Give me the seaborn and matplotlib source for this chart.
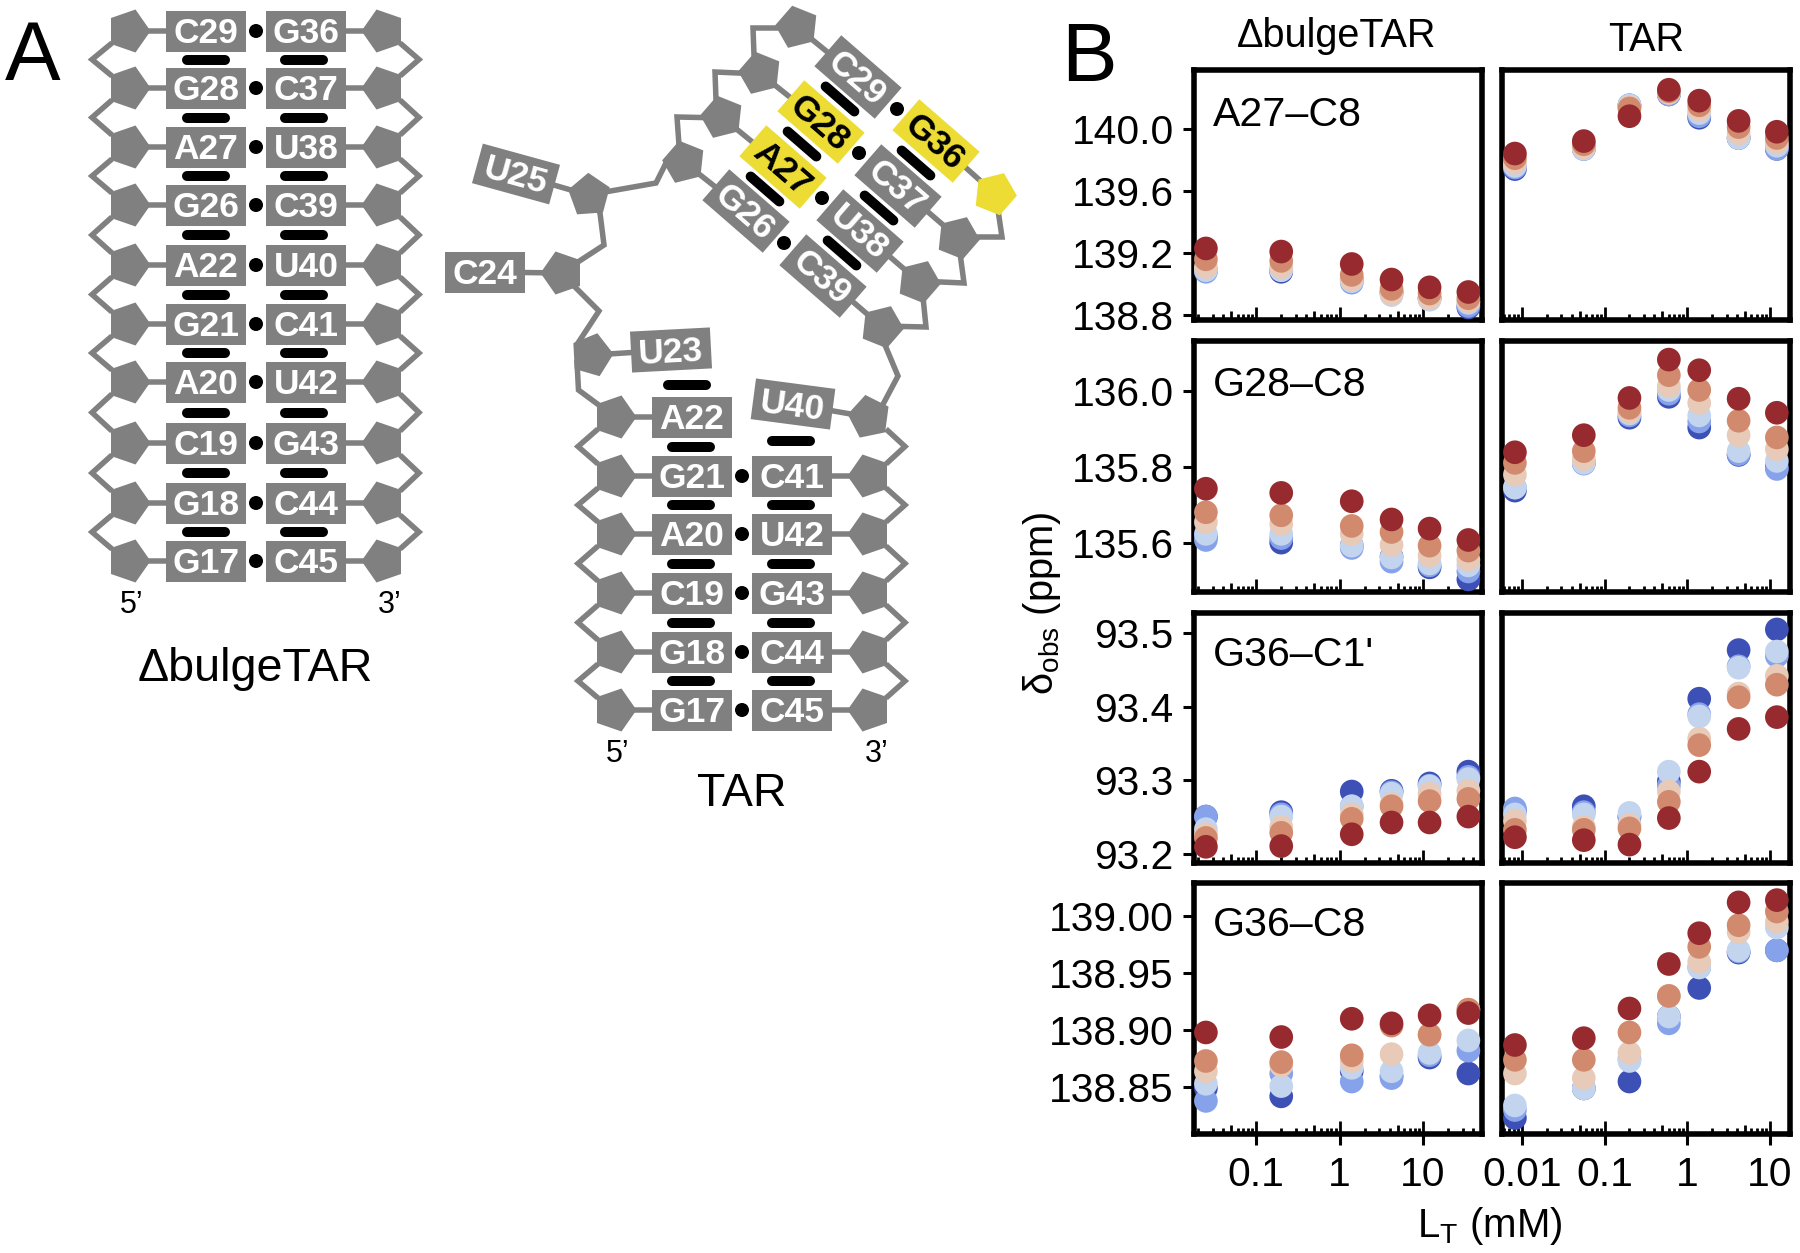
import numpy as np
import pandas as pd
import matplotlib
matplotlib.use("Agg")
import matplotlib.pyplot as plt
from matplotlib.patches import Polygon, Circle
import seaborn as sns

# ---------------- data ----------------
series = ["s1", "s2", "s3", "s4", "s5", "s6"]
colors = ["#3c50b6", "#86a2ea", "#c3d4ee", "#e8cab8", "#d18a6e", "#962a2e"]
lt_d = [0.025, 0.2, 1.4, 4.2, 12, 35]
lt_t = [0.0082, 0.056, 0.2, 0.6, 1.4, 4.2, 12.2]
A27_d = [[139.09, 139.08, 139.03, 138.95, 138.91, 138.85],
         [139.08, 139.09, 139.01, 138.94, 138.91, 138.86],
         [139.09, 139.09, 139.02, 138.93, 138.90, 138.88],
         [139.11, 139.11, 139.03, 138.94, 138.91, 138.89],
         [139.16, 139.15, 139.06, 138.97, 138.94, 138.91],
         [139.23, 139.21, 139.13, 139.03, 138.98, 138.95]]
A27_t = [[139.74, 139.87, 140.15, 140.22, 140.07, 139.94, 139.87],
         [139.75, 139.87, 140.15, 140.22, 140.08, 139.94, 139.87],
         [139.76, 139.87, 140.15, 140.23, 140.10, 139.94, 139.89],
         [139.78, 139.88, 140.14, 140.23, 140.12, 139.97, 139.91],
         [139.81, 139.90, 140.13, 140.24, 140.15, 140.01, 139.94],
         [139.84, 139.92, 140.08, 140.25, 140.18, 140.05, 139.98]]
G28_d = [[135.615, 135.600, 135.592, 135.563, 135.535, 135.503],
         [135.607, 135.612, 135.586, 135.550, 135.540, 135.524],
         [135.623, 135.623, 135.592, 135.561, 135.545, 135.540],
         [135.654, 135.649, 135.623, 135.594, 135.566, 135.555],
         [135.680, 135.672, 135.644, 135.628, 135.592, 135.579],
         [135.742, 135.731, 135.709, 135.661, 135.637, 135.607]]
G28_t = [[135.737, 135.810, 135.929, 135.984, 135.903, 135.831, 135.799],
         [135.745, 135.808, 135.935, 135.992, 135.919, 135.833, 135.794],
         [135.745, 135.810, 135.940, 136.002, 135.935, 135.841, 135.815],
         [135.779, 135.820, 135.945, 136.012, 135.968, 135.883, 135.846],
         [135.810, 135.841, 135.955, 136.041, 136.002, 135.921, 135.877],
         [135.838, 135.883, 135.981, 136.082, 136.054, 135.979, 135.942]]
G36C1_d = [[93.251, 93.257, 93.285, 93.286, 93.296, 93.312],
           [93.251, 93.254, 93.265, 93.284, 93.293, 93.305],
           [93.234, 93.251, 93.265, 93.282, 93.292, 93.302],
           [93.227, 93.237, 93.254, 93.268, 93.282, 93.286],
           [93.222, 93.229, 93.248, 93.265, 93.272, 93.275],
           [93.210, 93.211, 93.227, 93.243, 93.243, 93.251]]
G36C1_t = [[93.259, 93.265, 93.251, 93.299, 93.411, 93.477, 93.505],
           [93.262, 93.257, 93.250, 93.293, 93.390, 93.455, 93.469],
           [93.254, 93.254, 93.256, 93.312, 93.387, 93.453, 93.475],
           [93.245, 93.237, 93.240, 93.285, 93.357, 93.418, 93.442],
           [93.233, 93.233, 93.235, 93.271, 93.348, 93.413, 93.430],
           [93.223, 93.219, 93.213, 93.249, 93.312, 93.370, 93.386]]
G36C8_d = [[138.849, 138.842, 138.864, 138.860, 138.876, 138.862],
           [138.838, 138.862, 138.855, 138.858, 138.878, 138.882],
           [138.853, 138.851, 138.867, 138.864, 138.880, 138.891],
           [138.864, 138.869, 138.873, 138.879, 138.896, 138.918],
           [138.873, 138.872, 138.878, 138.904, 138.896, 138.918],
           [138.898, 138.894, 138.910, 138.906, 138.913, 138.915]]
G36C8_t = [[138.823, 138.849, 138.855, 138.912, 138.937, 138.968, 138.970],
           [138.830, 138.849, 138.875, 138.906, 138.955, 138.969, 138.970],
           [138.834, 138.849, 138.873, 138.912, 138.955, 138.970, 138.990],
           [138.862, 138.858, 138.880, 138.930, 138.960, 138.986, 138.995],
           [138.874, 138.874, 138.898, 138.930, 138.973, 138.992, 139.004],
           [138.887, 138.893, 138.919, 138.958, 138.985, 139.012, 139.014]]
panel_names = ["A27–C8", "G28–C8", "G36–C1'", "G36–C8"]
panel_d = [A27_d, G28_d, G36C1_d, G36C8_d]
panel_t = [A27_t, G28_t, G36C1_t, G36C8_t]
y_ticks = [[138.8, 139.2, 139.6, 140.0], [135.6, 135.8, 136.0],
           [93.2, 93.3, 93.4, 93.5], [138.85, 138.90, 138.95, 139.00]]
y_fmt = ["%.1f", "%.1f", "%.1f", "%.2f"]
y_lims = [(138.77, 140.377), (135.47, 136.131), (93.188, 93.528), (138.809, 139.029)]
x_lims = [(0.018, 51), (0.00564, 17.6)]
x_ticks = [[0.1, 1, 10], [0.01, 0.1, 1, 10]]
x_tick_labels = [["0.1", "1", "10"], ["0.01", "0.1", "1", "10"]]
col_titles = ["ΔbulgeTAR", "TAR"]

delta_left = ["C29", "G28", "A27", "G26", "A22", "G21", "A20", "C19", "G18", "G17"]
delta_right = ["G36", "C37", "U38", "C39", "U40", "C41", "U42", "G43", "C44", "C45"]
tar_left = ["A22", "G21", "A20", "C19", "G18", "G17"]
tar_right = ["C41", "U42", "G43", "C44", "C45"]

# ---------------- figure ----------------
sns.set_theme(style="white")
plt.rcParams["font.family"] = ["Liberation Sans", "DejaVu Sans"]
plt.rcParams["mathtext.fontset"] = "custom"
plt.rcParams["mathtext.rm"] = "Liberation Sans"
plt.rcParams["text.color"] = "black"
plt.rcParams["axes.labelcolor"] = "black"
W, H = 1800, 1253
fig = plt.figure(figsize=(W / 100, H / 100), dpi=100, facecolor="white")

# schematic canvas in image pixels
d = fig.add_axes([0, 0, 1, 1], zorder=0)
d.set_xlim(0, W); d.set_ylim(H, 0); d.axis("off")
GREY = "#808080"; YEL = "#ecdc34"
PX = 0.72
LOCAL = np.array([(20.5, 0), (5.5, 21.5), (-19, 13), (-19, -13), (5.5, -21.5)])

def rot(pts, deg):
    a = np.radians(deg); c, s = np.cos(a), np.sin(a)
    return np.asarray(pts) @ np.array([[c, s], [-s, c]])

def pent(x, y, deg, col=GREY):
    d.add_patch(Polygon(rot(LOCAL, deg) + (x, y), closed=True, fc=col, ec="none", zorder=3))

def box(x, y, txt, deg=0, fc=GREY, tc="white"):
    w, h = 80, 41
    pts = rot([(-w/2, -h/2), (w/2, -h/2), (w/2, h/2), (-w/2, h/2)], deg) + (x, y)
    d.add_patch(Polygon(pts, closed=True, fc=fc, ec="none", zorder=3))
    off = rot([(0, 2.5)], deg)[0]
    d.text(x + off[0], y + off[1], txt, color=tc, fontsize=25.5, fontweight="bold", ha="center", va="center",
           rotation=-deg, rotation_mode="anchor", zorder=4)

def line(pts, col=GREY):
    p = np.asarray(pts, float)
    d.plot(p[:, 0], p[:, 1], color=col, lw=5.5 * PX, solid_joinstyle="miter", solid_capstyle="butt", zorder=2)

def bar(x, y, deg=0, ln=38):
    e = rot([(-ln/2, 0), (ln/2, 0)], deg) + (x, y)
    d.plot(e[:, 0], e[:, 1], color="black", lw=10 * PX, solid_capstyle="round", zorder=4)

def dot(x, y):
    d.add_patch(Circle((x, y), 7, fc="black", ec="none", zorder=4))

def duplex(ys, left, right, xl, xr):
    # xl/xr : centres of the left and right label boxes
    for i, y in enumerate(ys):
        if left[i] is not None:
            box(xl, y, left[i]); pent(xl - 76, y, 0); line([(xl - 76, y), (xl, y)])
        if right[i] is not None:
            box(xr, y, right[i]); pent(xr + 76, y, 180); line([(xr + 76, y), (xr, y)])
            if left[i] is not None:
                dot((xl + xr) / 2, y)

# Delta-bulge TAR duplex
ys_d = [31, 88, 147, 205, 265, 324, 382, 443, 503, 561]
duplex(ys_d, delta_left, delta_right, 206, 306)
for a, b in zip(ys_d[:-1], ys_d[1:]):
    m = (a + b) / 2
    bar(206, m); bar(304, m)
    line([(112, a + 12), (92, m), (112, b - 12)])
    line([(400, a + 12), (419, m), (400, b - 12)])
d.text(132, 605, "5’", fontsize=22, ha="center", va="center")
d.text(390, 605, "3’", fontsize=22, ha="center", va="center")
d.text(255, 669, col_titles[0], fontsize=33.7, ha="center", va="center")

# TAR lower stem
ys_t = [417, 476, 534, 593, 652, 710]
duplex(ys_t, tar_left, [None] + tar_right, 692, 792)
for k, (a, b) in enumerate(zip(ys_t[:-1], ys_t[1:])):
    m = (a + b) / 2
    bar(691, m); bar(791, m - (6 if k == 0 else 0))
    line([(598, a + 12), (578, m), (598, b - 12)])
    line([(886, a + 12), (905, m), (886, b - 12)])
bar(687, 385)
d.text(618, 754, "5’", fontsize=22, ha="center", va="center")
d.text(877, 754, "3’", fontsize=22, ha="center", va="center")
d.text(742, 794, col_titles[1], fontsize=33.5, ha="center", va="center")

# TAR bulge linkers
box(793, 404, "U40", 7.5); pent(868, 417, 187.5); line([(793, 404), (868, 417)])
box(671, 350, "U23", -3); pent(593, 355, -3); line([(593, 355), (671, 350)])
box(516, 174, "U25", 15.4); pent(588, 195, 195); line([(588, 195), (516, 174)])
box(484.5, 272, "C24", 0); pent(561, 273, 180); line([(561, 273), (484.5, 272)])
line([(880, 410), (898, 376), (885, 345), (881, 326)])
line([(593, 355), (577, 362), (578.5, 390), (615, 417)])
line([(561, 273), (599, 311), (578, 343), (593, 355)])
line([(588, 195), (600, 213), (604, 245), (561, 273)])
line([(588, 195), (656, 183), (666, 163), (685, 163)])

# TAR upper stem (rotated)
ang = 41
upper_left = [("C29", 858, 77, 798, 28), ("G28", 821, 122, 761, 74),
              ("A27", 783, 167, 723, 118), ("G26", 746, 211, 685, 163)]
upper_right = [("G36", 936, 141, 994, 193), ("C37", 898, 186, 957, 237),
               ("U38", 860, 231, 918, 281), ("C39", 823, 276, 881, 326)]
hi = {"G28", "A27", "G36"}
for t, x, y, px, py in upper_left + upper_right:
    is_left = (t, x, y, px, py) in upper_left
    line([(px, py), (x, y)])
    c = YEL if t in hi else GREY
    box(x, y, t, ang, fc=c, tc="black" if t in hi else "white")
    pent(px, py, ang + (0 if is_left else 180), col=YEL if t == "G36" else GREY)
for x, y in [(897, 109), (859, 153), (822, 198), (784, 243)]:
    dot(x, y)
for x, y in [(840, 99), (802, 144), (765, 189), (916, 163), (879, 208), (842, 253)]:
    bar(x, y, ang)
line([(798, 28), (753, 28), (754, 55), (761, 74)])
line([(761, 74), (715, 72), (716, 100), (723, 118)])
line([(723, 118), (677, 117), (679, 145), (685, 163)])
line([(881, 326), (926, 327), (923, 297), (918, 281)])
line([(918, 281), (964, 283), (960, 253), (957, 237)])
line([(957, 237), (1002, 237), (998, 210), (994, 193)])

d.text(33, 58, "A", fontsize=60, ha="center", va="center")
d.text(1089, 59, "B", fontsize=60, ha="center", va="center")

# ---------------- data panels ----------------
col_px = [(1194, 1482), (1501.5, 1790)]
row_px = [(70, 320), (341, 592), (612.5, 863), (883, 1134)]
name_y = [115, 385, 655.5, 925]
LW = 4.0

def logticks(ax, lims, ax_h):
    lo, hi_ = np.log10(lims)
    for k in range(int(np.floor(lo)), int(np.ceil(hi_)) + 1):
        for m in range(1, 10):
            v = m * 10.0 ** k
            if lims[0] <= v <= lims[1]:
                ln = 13 if m == 1 else (9 if m == 5 else 6)
                ax.plot([v, v], [0, ln / ax_h], transform=ax.get_xaxis_transform(),
                        color="black", lw=2.0, solid_capstyle="butt", zorder=1.5)

for r in range(4):
    for c in range(2):
        x0, x1 = col_px[c]; y0, y1 = row_px[r]
        ax = fig.add_axes([x0 / W, 1 - y1 / H, (x1 - x0) / W, (y1 - y0) / H], zorder=2)
        xs = lt_d if c == 0 else lt_t
        vals = panel_d[r] if c == 0 else panel_t[r]
        df = pd.DataFrame([{"LT": x, "shift": v, "series": series[i]}
                           for i, row in enumerate(vals) for x, v in zip(xs, row)])
        sns.scatterplot(data=df, x="LT", y="shift", hue="series", hue_order=series,
                        palette=colors, s=290, linewidth=0, alpha=1, legend=False, ax=ax,
                        zorder=3, clip_on=True)
        ax.set_xscale("log")
        ax.set_xlim(*x_lims[c]); ax.set_ylim(*y_lims[r])
        ax.set_xlabel(""); ax.set_ylabel("")
        ax.set_facecolor("white")
        for s in ax.spines.values():
            s.set_visible(True); s.set_linewidth(LW); s.set_color("black")
        ax.minorticks_off()
        logticks(ax, x_lims[c], y1 - y0)
        ax.set_xlim(*x_lims[c])
        if r == 3:
            ax.set_xticks(x_ticks[c]); ax.set_xticklabels(x_tick_labels[c])
            ax.tick_params(axis="x", which="major", bottom=True, direction="out", length=8,
                           width=2.2, labelsize=29.3, pad=8, color="black", labelcolor="black")
        else:
            ax.set_xticks([])
        ax.xaxis.set_minor_locator(matplotlib.ticker.NullLocator())
        if c == 0:
            ax.set_yticks(y_ticks[r])
            ax.set_yticklabels([y_fmt[r] % v for v in y_ticks[r]])
            ax.tick_params(axis="y", left=True, direction="out", length=8, width=2.2,
                           labelsize=29.3, pad=6.5, color="black", labelcolor="black")
            ax.text(1213, name_y[r], panel_names[r], fontsize=29.6, ha="left", va="center",
                    transform=d.transData, zorder=5)
        else:
            ax.set_yticks([])

for xc, yc, t in zip([1337, 1646], [36, 40], col_titles):
    fig.text(xc / W, 1 - yc / H, t, fontsize=28.5, ha="center", va="center")
fig.text(1042 / W, 1 - 603 / H, r"δ$_{\mathregular{obs}}$ (ppm)", fontsize=28.7, rotation=90,
         ha="center", va="center")
fig.text(1490 / W, 1 - 1226 / H, r"L$_{\mathregular{T}}$ (mM)", fontsize=29, ha="center", va="center")

fig.savefig("out.png", dpi=100, facecolor="white")
